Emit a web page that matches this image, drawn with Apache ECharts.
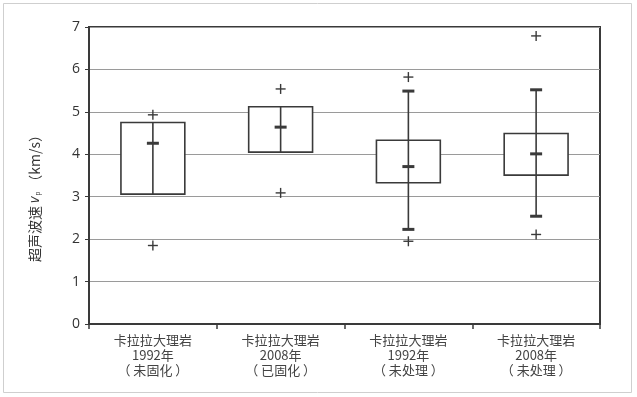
<!DOCTYPE html>
<html>
<head>
<meta charset="utf-8">
<script src="https://cdn.jsdelivr.net/npm/echarts@6/dist/echarts.min.js"></script>
<style>
  html, body { margin: 0; padding: 0; background: #fff; }
  #chart { width: 637px; height: 397px; }
</style>
</head>
<body>
<div id="chart"></div>
<script>
// Samples of Carrara marble
var categories = [
  '卡拉拉大理岩\n1992年\n（ 未固化 ）',
  '卡拉拉大理岩\n2008年\n（ 已固化 ）',
  '卡拉拉大理岩\n1992年\n（ 未处理 ）',
  '卡拉拉大理岩\n2008年\n（ 未处理 ）'
];
// Ultrasonic velocity statistics, km/s
var boxLow      = [3.06, 4.05, 3.33, 3.51];
var boxHigh     = [4.75, 5.12, 4.33, 4.49];
var meanVals    = [4.26, 4.64, 3.71, 4.01];
var whiskerLow  = [null, null, 2.23, 2.54];
var whiskerHigh = [null, null, 5.49, 5.52];
var maxVals     = [4.93, 5.54, 5.82, 6.79];
var minVals     = [1.85, 3.09, 1.95, 2.11];
var yTicks      = [0, 1, 2, 3, 4, 5, 6, 7];

var seriesData = categories.map(function (c, i) {
  return [i, boxLow[i], boxHigh[i], meanVals[i], whiskerLow[i], whiskerHigh[i], maxVals[i], minVals[i]];
});

var INK = '#3a3a3a';

function plusMark(x, y) {
  return [
    { type: 'line', shape: { x1: x - 5, y1: y, x2: x + 5, y2: y }, style: { stroke: INK, lineWidth: 1.4 } },
    { type: 'line', shape: { x1: x, y1: y - 5, x2: x, y2: y + 5 }, style: { stroke: INK, lineWidth: 1.4 } }
  ];
}

function renderItem(params, api) {
  var idx = api.value(0);
  var band = api.size([1, 0])[0];
  var halfW = band * 0.25;
  var cx = api.coord([idx, 0])[0];
  var yLo = api.coord([idx, api.value(1)])[1];
  var yHi = api.coord([idx, api.value(2)])[1];
  var yMean = api.coord([idx, api.value(3)])[1];
  var wl = api.value(4), wh = api.value(5);
  var children = [];

  children.push({
    type: 'rect',
    shape: { x: cx - halfW, y: yHi, width: halfW * 2, height: yLo - yHi },
    style: { fill: '#fff', stroke: INK, lineWidth: 1.6 }
  });

  var hasWhisker = !isNaN(wl) && wl != null && !isNaN(wh) && wh != null;
  var yWl = hasWhisker ? api.coord([idx, wl])[1] : yLo;
  var yWh = hasWhisker ? api.coord([idx, wh])[1] : yHi;
  children.push({
    type: 'line',
    shape: { x1: cx, y1: yWh, x2: cx, y2: yWl },
    style: { stroke: INK, lineWidth: 1.6 }
  });
  if (hasWhisker) {
    [yWl, yWh].forEach(function (y) {
      children.push({
        type: 'rect',
        shape: { x: cx - 6, y: y - 1.5, width: 12, height: 3 },
        style: { fill: INK }
      });
    });
  }
  children.push({
    type: 'rect',
    shape: { x: cx - 6, y: yMean - 1.5, width: 12, height: 3 },
    style: { fill: INK }
  });

  var yMax = api.coord([idx, api.value(6)])[1];
  var yMin = api.coord([idx, api.value(7)])[1];
  children = children.concat(plusMark(cx, yMax), plusMark(cx, yMin));

  return { type: 'group', children: children };
}

var chart = echarts.init(document.getElementById('chart'), null, { renderer: 'canvas' });
chart.setOption({
  animation: false,
  backgroundColor: '#fff',
  textStyle: { fontFamily: '"Open Sans", "Noto Sans CJK SC", sans-serif' },
  grid: {
    left: 89, right: 37, top: 27, bottom: 73,
    show: true, borderColor: INK, borderWidth: 2, backgroundColor: 'transparent'
  },
  graphic: [
    {
      type: 'rect', silent: true, z: -1,
      shape: { x: 3.5, y: 3.5, width: 628, height: 389 },
      style: { fill: 'none', stroke: '#cfcfcf', lineWidth: 1 }
    },
    {
      type: 'text', x: 35, y: 195, rotation: Math.PI / 2,
      style: {
        text: '{a|超声波速 }{v|v}{s|p}{a|（km/s）}',
        align: 'center', verticalAlign: 'middle',
        rich: {
          a: { fontSize: 14, fill: '#333', fontFamily: '"Noto Sans CJK SC", sans-serif' },
          v: { fontSize: 14, fill: '#333', fontStyle: 'italic', fontFamily: '"Open Sans", sans-serif' },
          s: { fontSize: 7, fill: '#333', padding: [7, 3, 0, 1] }
        }
      }
    }
  ],
  xAxis: {
    type: 'category',
    data: categories,
    axisLine: { lineStyle: { color: INK, width: 2 } },
    axisTick: { show: true, length: 5, lineStyle: { color: INK, width: 1.5 } },
    axisLabel: {
      color: '#444', fontSize: 13, lineHeight: 15, margin: 9, interval: 0,
      fontFamily: '"Noto Sans CJK SC", sans-serif'
    },
    splitLine: { show: false }
  },
  yAxis: {
    type: 'value',
    min: yTicks[0], max: yTicks[yTicks.length - 1], interval: 1,
    axisLine: { show: true, lineStyle: { color: INK, width: 2 } },
    axisTick: { show: true, length: 4, lineStyle: { color: INK } },
    axisLabel: { color: '#333', fontSize: 14, margin: 9 },
    splitLine: { lineStyle: { color: '#9a9a9a', width: 1 } }
  },
  series: [{
    type: 'custom',
    renderItem: renderItem,
    encode: { x: 0, y: [1, 2, 3, 4, 5, 6, 7] },
    data: seriesData,
    clip: false
  }]
});
</script>
</body>
</html>
